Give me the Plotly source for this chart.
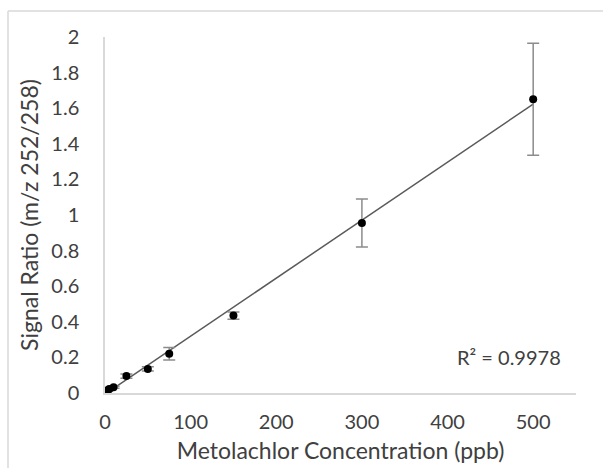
import numpy as np
import plotly.graph_objects as go

conc = [0.5, 1, 2.5, 5, 10, 25, 50, 75, 150, 300, 500]
ratio = [0.005, 0.01, 0.015, 0.022, 0.032, 0.095, 0.135, 0.22, 0.435, 0.955, 1.65]
err = [0.003, 0.003, 0.004, 0.005, 0.006, 0.012, 0.012, 0.035, 0.02, 0.135, 0.315]

slope, intercept = np.polyfit(conc, ratio, 1)
fit_x = [0, 500]
fit_y = [intercept + slope * v for v in fit_x]
r2_text = "R² = 0.9978"

font = "Lato, Open Sans, sans-serif"
fig = go.Figure()
fig.add_trace(go.Scatter(x=fit_x, y=fit_y, mode="lines",
                         line=dict(color="#5a5a5a", width=1.5), showlegend=False))
fig.add_trace(go.Scatter(x=conc, y=ratio, mode="markers",
                         marker=dict(color="black", size=8),
                         error_y=dict(type="data", array=err, color="#8c8c8c",
                                      thickness=1.5, width=6),
                         showlegend=False))

W, H = 603, 468
L, R, T, B = 105, 27, 37, 75
pw, ph = W - L - R, H - T - B
fx = lambda px: (px - L) / pw
fy = lambda py: (H - B - py) / ph

fig.add_shape(type="line", xref="paper", yref="paper", x0=fx(8), x1=fx(610), y0=fy(11), y1=fy(11),
              line=dict(color="#d9d9d9", width=1.5))
fig.add_shape(type="line", xref="paper", yref="paper", x0=fx(8), x1=fx(8), y0=fy(11), y1=fy(480),
              line=dict(color="#d9d9d9", width=1.5))

fig.add_annotation(x=472, y=0.2, xref="x", yref="y", text=r2_text, showarrow=False,
                   font=dict(size=20, color="#404040", family=font))

fig.update_layout(
    width=W, height=H, margin=dict(l=L, r=R, t=T, b=B),
    paper_bgcolor="white", plot_bgcolor="white",
    font=dict(family=font, size=20, color="#404040"),
    xaxis=dict(range=[0, 550], tickvals=[0, 100, 200, 300, 400, 500], showgrid=False,
               zeroline=False, showline=True, linecolor="#d9d9d9", linewidth=1.5,
               ticks="", ticklabelstandoff=10, automargin=False,
               title=dict(text="Metolachlor Concentration (ppb)", standoff=11, font=dict(size=23))),
    yaxis=dict(range=[0, 2], tickvals=[0, 0.2, 0.4, 0.6, 0.8, 1, 1.2, 1.4, 1.6, 1.8, 2],
               ticktext=["0", "0.2", "0.4", "0.6", "0.8", "1", "1.2", "1.4", "1.6", "1.8", "2"],
               showgrid=False, zeroline=False, showline=True, linecolor="#d9d9d9", linewidth=1.5,
               ticks="", ticklabelstandoff=20, automargin=False,
               title=dict(text="Signal Ratio (m/z 252/258)", standoff=6, font=dict(size=23))),
)
fig.write_html("out.html")
